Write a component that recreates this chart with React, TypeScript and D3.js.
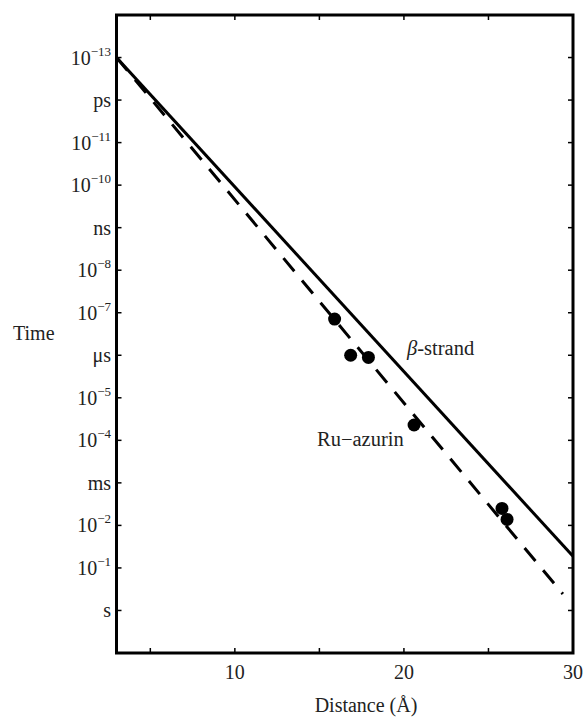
import React from "react";
import * as d3 from "d3";

const xDomain = [3, 30];
const yDomainLog = [-14, 1];
const xTicksLabeled = [10, 20, 30];
const xTicksAll = [5, 10, 15, 20, 25, 30];
const yTickExps = [-13, -12, -11, -10, -9, -8, -7, -6, -5, -4, -3, -2, -1, 0];
const yTickNames: Record<string, string> = { "-12": "ps", "-9": "ns", "-6": "μs", "-3": "ms", "0": "s" };

// β decay constants (Å^-1), start at 10^-13 s at 3 Å
const betaStrand = { beta: 1.0, x0: 3, x1: 30, log0: -13 };
const ruAzurinLine = { beta: 1.1, x0: 3, x1: 29.4, log0: -13 };

const pointDist = [15.9, 16.85, 17.9, 20.6, 25.8, 26.1];
const pointLogT = [-6.85, -6.0, -5.95, -4.36, -2.4, -2.14];

export default function App() {
  const W = 587, H = 717;
  const left = 116.5, right = 573, top = 15, bottom = 653;
  const x = d3.scaleLinear().domain(xDomain).range([left, right]);
  const y = d3.scaleLinear().domain(yDomainLog).range([top, bottom]);
  const lineGen = d3.line<[number, number]>().x(d => x(d[0])).y(d => y(d[1]));
  const mk = (p: typeof betaStrand) => {
    const pts: [number, number][] = [p.x0, p.x1].map(r => [r, p.log0 + (p.beta * (r - p.x0)) / Math.LN10]);
    return lineGen(pts) || "";
  };
  const ts: React.CSSProperties = { fontFamily: "Liberation Serif, DejaVu Serif, serif" };
  const tl = 5;
  return (
    <svg width={W} height={H} style={{ position: "absolute", left: 0, top: 0, background: "#fff" }}>
      <defs>
        <clipPath id="plot">
          <rect x={left} y={top} width={right - left} height={bottom - top} />
        </clipPath>
      </defs>
      <g clipPath="url(#plot)">
        <path d={mk(betaStrand)} stroke="#000" strokeWidth={3} fill="none" />
        <path d={mk(ruAzurinLine)} stroke="#000" strokeWidth={3} fill="none" strokeDasharray="17 12" />
        {pointDist.map((d, i) => (
          <circle key={i} cx={x(d)} cy={y(pointLogT[i])} r={6.5} fill="#000" />
        ))}
      </g>
      {xTicksAll.map(t => (
        <g key={"xt" + t}>
          <line x1={x(t)} x2={x(t)} y1={bottom} y2={bottom - tl} stroke="#000" strokeWidth={1.5} />
          <line x1={x(t)} x2={x(t)} y1={top} y2={top + tl} stroke="#000" strokeWidth={1.5} />
        </g>
      ))}
      {yTickExps.map(t => (
        <g key={"yt" + t}>
          <line x1={left} x2={left + tl} y1={y(t)} y2={y(t)} stroke="#000" strokeWidth={1.5} />
          <line x1={right} x2={right - tl} y1={y(t)} y2={y(t)} stroke="#000" strokeWidth={1.5} />
        </g>
      ))}
      <rect x={left} y={top} width={right - left} height={bottom - top} fill="none" stroke="#000" strokeWidth={3} />
      {xTicksLabeled.map(t => (
        <text key={"xl" + t} style={ts} x={x(t)} y={679} textAnchor="middle" fontSize={20} fill="#222">{t}</text>
      ))}
      {yTickExps.map(t => {
        const name = yTickNames[String(t)];
        return name ? (
          <text key={"yl" + t} style={ts} x={111} y={y(t) + 7} textAnchor="end" fontSize={20} fill="#222">{name}</text>
        ) : (
          <text key={"yl" + t} style={ts} x={111} y={y(t) + 7} textAnchor="end" fontSize={20} fill="#222">
            10<tspan dy={-9} fontSize={13}>{"−" + Math.abs(t)}</tspan>
          </text>
        );
      })}
      <text style={ts} x={13} y={340} fontSize={20} fill="#222">Time</text>
      <text style={ts} x={366} y={712} textAnchor="middle" fontSize={20} fill="#222">Distance (Å)</text>
      <text style={ts} x={407} y={355} fontSize={20.5} fill="#222"><tspan fontStyle="italic">β</tspan>-strand</text>
      <text style={ts} x={317} y={446} fontSize={20.5} fill="#222">Ru−azurin</text>
    </svg>
  );
}
